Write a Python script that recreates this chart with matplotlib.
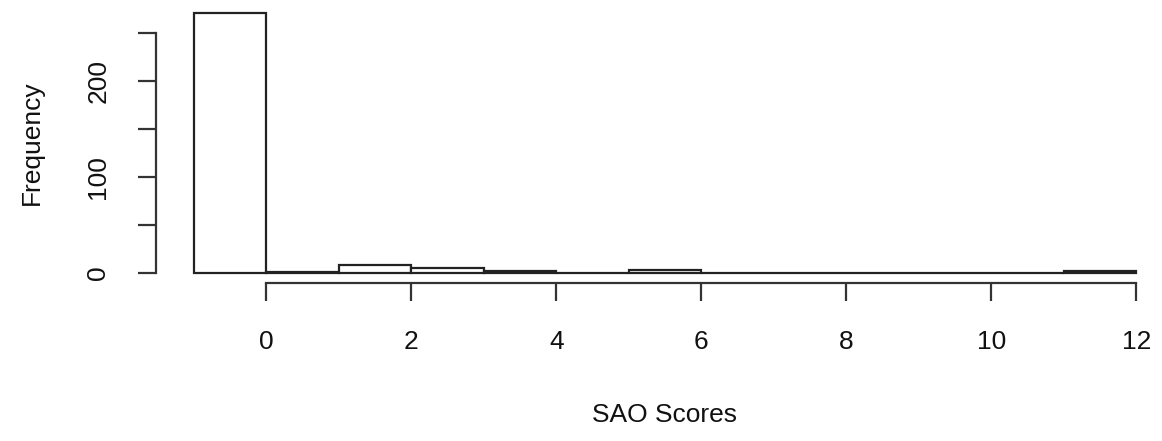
import matplotlib
matplotlib.use("Agg")
import matplotlib.pyplot as plt
import numpy as np

# Histogram data (R-style hist, unit-width bins)
bin_edges = [-1, 0, 1, 2, 3, 4, 5, 6, 7, 8, 9, 10, 11, 12]
counts = [270, 1, 8, 5, 2, 0, 3, 0, 0, 0, 0, 0, 2]
x_ticks = [0, 2, 4, 6, 8, 10, 12]
y_ticks = [0, 50, 100, 150, 200, 250]
y_tick_labels = ["0", "", "100", "", "200", ""]

plt.rcParams['font.family'] = ['Liberation Sans', 'DejaVu Sans']

W, H = 1162, 441
fig = plt.figure(figsize=(W / 100, H / 100), dpi=100)
left, right, top, bottom = 156, 1174, 3, 283
ax = fig.add_axes([left / W, (H - bottom) / H, (right - left) / W, (bottom - top) / H])

edges = np.array(bin_edges, dtype=float)
ax.bar(edges[:-1], counts, width=np.diff(edges), align='edge',
       facecolor='white', edgecolor='#222222', linewidth=1.6)

ax.set_xlim(-1.52, 12.52)
ax.set_ylim(-10.8, 280.8)

for s in ['top', 'right']:
    ax.spines[s].set_visible(False)
ax.spines['left'].set_bounds(0, 250)
ax.spines['bottom'].set_bounds(0, 12)
for s in ['left', 'bottom']:
    ax.spines[s].set_linewidth(1.6)
    ax.spines[s].set_color('#333333')

ax.set_xticks(x_ticks)
ax.set_xticklabels([str(t) for t in x_ticks])
ax.set_yticks(y_ticks)
ax.set_yticklabels(y_tick_labels, rotation=90, va='center')

ax.tick_params(axis='both', length=13, width=1.6, color='#333333',
               labelsize=19, labelcolor='#111111')
ax.tick_params(axis='x', pad=21)
ax.tick_params(axis='y', pad=20)

ax.set_xlabel("SAO Scores", fontsize=19, color='#111111')
ax.xaxis.set_label_coords(0.5, (bottom - 415) / (bottom - top))
ax.xaxis.label.set_va('center')
ax.set_ylabel("Frequency", fontsize=19, color='#111111')
ax.yaxis.set_label_coords((32 - left) / (right - left), 0.5)
ax.yaxis.label.set_va('center')

fig.savefig("out.png", dpi=100)
